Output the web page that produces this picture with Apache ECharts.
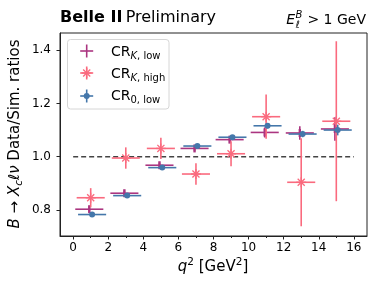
<!DOCTYPE html>
<html>
<head>
<meta charset="utf-8">
<script src="https://cdn.jsdelivr.net/npm/echarts@6/dist/echarts.min.js"></script>
<style>html,body{margin:0;padding:0;background:#fff}#c{width:381px;height:291px}</style>
</head>
<body>
<div id="c"></div>
<script>
// ---- data ----
var binCenters = [1, 3, 5, 7, 9, 11, 13, 15];
var binHalfWidth = [0.8, 0.8, 0.8, 0.8, 0.8, 0.8, 0.8, 0.8];
var crKLow = [0.803, 0.863, 0.968, 1.031, 1.064, 1.091, 1.089, 1.104];
var crKLowErr = [0.011, 0.010, 0.010, 0.010, 0.011, 0.019, 0.025, 0.044];
var crKHigh = [0.846, 0.995, 1.031, 0.935, 1.011, 1.150, 0.904, 1.133];
var crKHighErr = [0.036, 0.040, 0.040, 0.040, 0.047, 0.083, 0.165, 0.300];
var cr0Low = [0.783, 0.854, 0.959, 1.040, 1.073, 1.116, 1.085, 1.100];
var cr0LowErr = [0.005, 0.006, 0.006, 0.006, 0.007, 0.010, 0.012, 0.020];
var xMajorTicks = [0, 2, 4, 6, 8, 10, 12, 14, 16];
var xMinorTicks = [1, 3, 5, 7, 9, 11, 13, 15];
var yTicks = [0.8, 1.0, 1.2, 1.4];
var refLineX = [0, 16];
var refLineY = 1.0;

var C_KLOW = '#ab3580', C_KHIGH = '#fa6a7e', C_0LOW = '#4477aa';
var FONT = 'DejaVu Sans';

function mkData(vals, errs, shift) {
  return binCenters.map(function (x, i) { return [x + shift, vals[i], errs[i], binHalfWidth[i]]; });
}

function errRender(color, marker) {
  return function (params, api) {
    var x = api.value(0), y = api.value(1), ey = api.value(2), ex = api.value(3);
    var l = api.coord([x - ex, y]), r = api.coord([x + ex, y]);
    var t = api.coord([x, y + ey]), b = api.coord([x, y - ey]);
    var c = api.coord([x, y]);
    var st = { stroke: color, lineWidth: 1.6, fill: null };
    var ch = [
      { type: 'line', shape: { x1: l[0], y1: l[1], x2: r[0], y2: r[1] }, style: st },
      { type: 'line', shape: { x1: t[0], y1: t[1], x2: b[0], y2: b[1] }, style: st }
    ];
    if (marker === 'bar') {
      ch.push({ type: 'line', shape: { x1: c[0], y1: c[1] - 4, x2: c[0], y2: c[1] + 4 }, style: { stroke: color, lineWidth: 2.4 } });
    } else if (marker === 'star') {
      var R = 5;
      for (var k = 0; k < 4; k++) {
        var a = k * Math.PI / 4;
        ch.push({ type: 'line', shape: { x1: c[0] - R * Math.cos(a), y1: c[1] - R * Math.sin(a), x2: c[0] + R * Math.cos(a), y2: c[1] + R * Math.sin(a) }, style: { stroke: color, lineWidth: 1.3 } });
      }
    } else if (marker === 'dot') {
      ch.push({ type: 'circle', shape: { cx: c[0], cy: c[1], r: 3 }, style: { fill: color } });
    }
    return { type: 'group', children: ch };
  };
}

var chart = echarts.init(document.getElementById('c'), null, { renderer: 'canvas' });

function legendIcon(cx, cy, color, marker) {
  var s = 6.5, Z = 60, ch = [
    { type: 'line', z: Z, shape: { x1: cx - s, y1: cy, x2: cx + s, y2: cy }, style: { stroke: color, lineWidth: 1.6 } },
    { type: 'line', z: Z, shape: { x1: cx, y1: cy - s, x2: cx, y2: cy + s }, style: { stroke: color, lineWidth: 1.6 } }
  ];
  if (marker === 'star') {
    for (var k = 0; k < 4; k++) {
      var a = k * Math.PI / 4, R = 5;
      ch.push({ type: 'line', z: Z, shape: { x1: cx - R * Math.cos(a), y1: cy - R * Math.sin(a), x2: cx + R * Math.cos(a), y2: cy + R * Math.sin(a) }, style: { stroke: color, lineWidth: 1.3 } });
    }
  } else if (marker === 'dot') {
    ch.push({ type: 'circle', z: Z, shape: { cx: cx, cy: cy, r: 3 }, style: { fill: color } });
  }
  return ch;
}

var richLegend = {
  m: { fontSize: 14, fontFamily: FONT, lineHeight: 18, fill: '#000' },
  si: { fontSize: 10, fontFamily: FONT, fontStyle: 'italic', lineHeight: 10, verticalAlign: 'bottom', fill: '#000' },
  s: { fontSize: 10, fontFamily: FONT, lineHeight: 10, verticalAlign: 'bottom', fill: '#000' }
};

var graphics = [
  // title
  { type: 'text', left: 60, top: 10, style: { text: '{b|Belle II} {r|Preliminary}', rich: {
      b: { fontSize: 16, fontWeight: 'bold', fontFamily: FONT, fill: '#000' },
      r: { fontSize: 16, fontFamily: FONT, fill: '#000' } } } },
  { type: 'text', x: 366, y: 20, style: { text: '> 1 GeV', fontSize: 14, fontFamily: FONT, fill: '#000', align: 'right', verticalAlign: 'middle' } },
  { type: 'text', x: 295, y: 20, style: { text: 'E', fontSize: 14, fontStyle: 'italic', fontFamily: FONT, fill: '#000', align: 'right', verticalAlign: 'middle' } },
  { type: 'text', x: 295.5, y: 15, style: { text: 'B', fontSize: 10, fontStyle: 'italic', fontFamily: FONT, fill: '#000', align: 'left', verticalAlign: 'middle' } },
  { type: 'text', x: 295.5, y: 25, style: { text: 'ℓ', fontSize: 10, fontStyle: 'italic', fontFamily: FONT, fill: '#000', align: 'left', verticalAlign: 'middle' } },
  // y label
  { type: 'text', x: 15, y: 134, rotation: Math.PI / 2, style: {
      text: '{i|B}{m| → }{i|X}{si|c}{i|ℓν}{m| Data/Sim. ratios}', align: 'center', verticalAlign: 'middle',
      rich: {
        i: { fontSize: 15, fontStyle: 'italic', fontFamily: FONT, lineHeight: 20, fill: '#000' },
        m: { fontSize: 15, fontFamily: FONT, lineHeight: 20, fill: '#000' },
        si: { fontSize: 10.5, fontStyle: 'italic', fontFamily: FONT, lineHeight: 10, verticalAlign: 'bottom', fill: '#000' }
      } } },
  // x label
  { type: 'text', x: 213, y: 267, style: {
      text: '{i|q}{sup|2}{m| [GeV}{sup|2}{m|]}', align: 'center', verticalAlign: 'middle',
      rich: {
        i: { fontSize: 15, fontStyle: 'italic', fontFamily: FONT, lineHeight: 20, fill: '#000' },
        m: { fontSize: 15, fontFamily: FONT, lineHeight: 20, fill: '#000' },
        sup: { fontSize: 10.5, fontFamily: FONT, lineHeight: 10, verticalAlign: 'top', fill: '#000' }
      } } },
  // legend box
  { type: 'rect', shape: { x: 67.5, y: 39.5, width: 101.5, height: 69.5, r: 3 }, style: { fill: 'rgba(255,255,255,0.85)', stroke: '#d6d6d6', lineWidth: 1 }, z: 50 },
  { type: 'group', children: legendIcon(86.7, 51, C_KLOW, 'none'), z: 60 },
  { type: 'group', children: legendIcon(86.7, 73, C_KHIGH, 'star'), z: 60 },
  { type: 'group', children: legendIcon(86.7, 96, C_0LOW, 'dot'), z: 60 },
  { type: 'text', x: 111, y: 52, z: 60, style: { text: '{m|CR}{si|K}{s|, low}', verticalAlign: 'middle', rich: richLegend } },
  { type: 'text', x: 111, y: 74, z: 60, style: { text: '{m|CR}{si|K}{s|, high}', verticalAlign: 'middle', rich: richLegend } },
  { type: 'text', x: 111, y: 96, z: 60, style: { text: '{m|CR}{s|0, low}', verticalAlign: 'middle', rich: richLegend } }
];

var option = {
  animation: false,
  backgroundColor: '#fff',
  grid: { left: 60, right: 14, top: 33, bottom: 55, show: true, borderColor: '#222', borderWidth: 1, backgroundColor: 'transparent' },
  xAxis: [{
    type: 'value', min: -0.75, max: 16.75,
    axisLine: { show: true, onZero: false, lineStyle: { color: '#222', width: 1 } },
    axisTick: { show: true, inside: false, length: 3.5, customValues: xMajorTicks, lineStyle: { color: '#222' } },
    axisLabel: { show: true, customValues: xMajorTicks, margin: 6, fontSize: 12, fontFamily: FONT, color: '#000' },
    splitLine: { show: false }
  }, {
    type: 'value', min: -0.75, max: 16.75, position: 'bottom',
    axisLine: { show: false, onZero: false },
    axisTick: { show: true, length: 2, customValues: xMinorTicks, lineStyle: { color: '#222' } },
    axisLabel: { show: false, customValues: xMinorTicks },
    splitLine: { show: false }
  }],
  yAxis: {
    type: 'value', min: 0.7025, max: 1.464,
    axisLine: { show: true, onZero: false, lineStyle: { color: '#222', width: 1 } },
    axisTick: { show: true, length: 3.5, customValues: yTicks, lineStyle: { color: '#222' } },
    axisLabel: { show: true, customValues: yTicks, margin: 9, fontSize: 12, fontFamily: FONT, color: '#000',
      formatter: function (v) { return v.toFixed(1); } },
    splitLine: { show: false }
  },
  series: [
    { type: 'line', data: refLineX.map(function (x) { return [x, refLineY]; }), symbol: 'none',
      lineStyle: { color: '#444', width: 1.5, type: [5, 3] }, z: 1 },
    { type: 'custom', name: 'CR_K,low', data: mkData(crKLow, crKLowErr, -0.08), renderItem: errRender(C_KLOW, 'bar'), z: 2, clip: false },
    { type: 'custom', name: 'CR_K,high', data: mkData(crKHigh, crKHighErr, 0), renderItem: errRender(C_KHIGH, 'star'), z: 3, clip: false },
    { type: 'custom', name: 'CR_0,low', data: mkData(cr0Low, cr0LowErr, 0.08), renderItem: errRender(C_0LOW, 'dot'), z: 4, clip: false }
  ],
  graphic: graphics
};
chart.setOption(option);
</script>
</body>
</html>
